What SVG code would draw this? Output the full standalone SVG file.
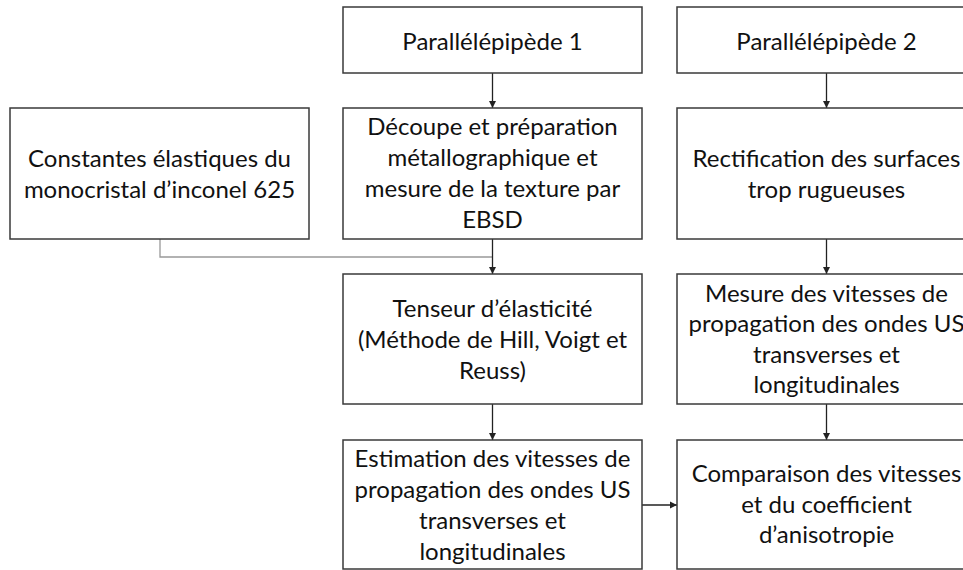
<svg xmlns="http://www.w3.org/2000/svg" width="963" height="570" viewBox="0 0 963 570">
<style>
.box{fill:#fff;stroke:#3a3a3a;stroke-width:1.5}
.t{font-family:Lato,"Open Sans",sans-serif;font-size:24px;fill:#111;text-anchor:middle}
.c{stroke:#222;stroke-width:1.3;fill:none}
.g{stroke:#999;stroke-width:1.3;fill:none}
</style>
<defs>
<marker id="ah" viewBox="0 0 10 10" refX="10" refY="5" markerWidth="7" markerHeight="8" markerUnits="userSpaceOnUse" orient="auto">
<path d="M0,0 L10,5 L0,10 z" fill="#222"/>
</marker>
</defs>
<rect width="963" height="570" fill="#fff"/>
<g id="connectors">
<line class="c" x1="492.5" y1="73" x2="492.5" y2="108" marker-end="url(#ah)"/>
<line class="c" x1="826.5" y1="73" x2="826.5" y2="108" marker-end="url(#ah)"/>
<polyline class="g" points="160,239 160,257 492.5,257"/>
<line class="c" x1="492.5" y1="239" x2="492.5" y2="274" marker-end="url(#ah)"/>
<line class="c" x1="826.5" y1="239" x2="826.5" y2="274" marker-end="url(#ah)"/>
<line class="c" x1="492.5" y1="404" x2="492.5" y2="440" marker-end="url(#ah)"/>
<line class="c" x1="826.5" y1="404" x2="826.5" y2="440" marker-end="url(#ah)"/>
<line class="c" x1="642" y1="505" x2="677" y2="505" marker-end="url(#ah)"/>
</g>
<g id="p1"><rect class="box" x="343" y="7" width="299" height="66"/>
<text class="t" x="492.5" y="50">Parallélépipède 1</text></g>
<g id="p2"><rect class="box" x="677" y="7" width="299" height="66"/>
<text class="t" x="826.5" y="50">Parallélépipède 2</text></g>
<g id="constantes"><rect class="box" x="10" y="108" width="299" height="131"/>
<text class="t" x="159.5" y="167">Constantes élastiques du</text>
<text class="t" x="159.5" y="198">monocristal d’inconel 625</text></g>
<g id="decoupe"><rect class="box" x="343" y="108" width="299" height="131"/>
<text class="t" x="492.5" y="135">Découpe et préparation</text>
<text class="t" x="492.5" y="166">métallographique et</text>
<text class="t" x="492.5" y="197">mesure de la texture par</text>
<text class="t" x="492.5" y="228">EBSD</text></g>
<g id="rectification"><rect class="box" x="677" y="108" width="299" height="131"/>
<text class="t" x="826.5" y="167">Rectification des surfaces</text>
<text class="t" x="826.5" y="198">trop rugueuses</text></g>
<g id="tenseur"><rect class="box" x="343" y="274" width="299" height="130"/>
<text class="t" x="492.5" y="317">Tenseur d’élasticité</text>
<text class="t" x="492.5" y="348">(Méthode de Hill, Voigt et</text>
<text class="t" x="492.5" y="379">Reuss)</text></g>
<g id="mesure"><rect class="box" x="677" y="274" width="299" height="130"/>
<text class="t" x="826.5" y="302">Mesure des vitesses de</text>
<text class="t" x="826.5" y="332">propagation des ondes US</text>
<text class="t" x="826.5" y="363">transverses et</text>
<text class="t" x="826.5" y="393">longitudinales</text></g>
<g id="estimation"><rect class="box" x="343" y="440" width="299" height="129"/>
<text class="t" x="492.5" y="467">Estimation des vitesses de</text>
<text class="t" x="492.5" y="498">propagation des ondes US</text>
<text class="t" x="492.5" y="529">transverses et</text>
<text class="t" x="492.5" y="560">longitudinales</text></g>
<g id="comparaison"><rect class="box" x="677" y="440" width="299" height="129"/>
<text class="t" x="826.5" y="482">Comparaison des vitesses</text>
<text class="t" x="826.5" y="513">et du coefficient</text>
<text class="t" x="826.5" y="543">d’anisotropie</text></g>
</svg>
